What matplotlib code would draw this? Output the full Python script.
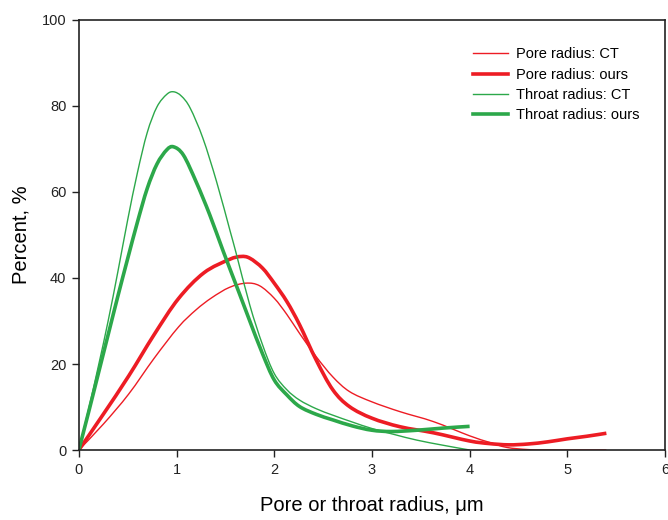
import numpy as np
import matplotlib
matplotlib.use('Agg')
import matplotlib.pyplot as plt
from matplotlib.path import Path
from matplotlib.patches import PathPatch
from matplotlib.lines import Line2D

plt.rcParams['font.family'] = ['Liberation Sans', 'DejaVu Sans']

# pore radius, CT
pore_ct_x = [0, 0.25, 0.51, 0.77, 1.02, 1.2, 1.36, 1.54, 1.71, 1.85, 2.0, 2.13, 2.26, 2.43,
             2.6, 2.77, 3.0, 3.29, 3.63, 4.0, 4.2, 4.38, 4.6, 4.8, 5.4]
pore_ct_y = [0, 6.0, 13.0, 21.3, 28.6, 32.6, 35.4, 37.8, 38.8, 38.2, 35.3, 31.5, 27.1, 21.7,
             17.0, 13.6, 11.2, 8.9, 6.6, 3.3, 1.8, 0.6, 0.1, 0, 0]

# pore radius, ours
pore_ours_x = [0, 0.25, 0.51, 0.77, 1.02, 1.28, 1.54, 1.66, 1.75, 1.88, 2.0, 2.13, 2.26, 2.43,
               2.6, 2.77, 3.0, 3.29, 3.63, 4.0, 4.2, 4.4, 4.6, 4.8, 5.0, 5.2, 5.4]
pore_ours_y = [0, 8.3, 17.2, 26.8, 35.2, 41.2, 44.3, 45.0, 44.6, 42.3, 38.8, 34.5, 29.1, 20.9,
               14.0, 10.1, 7.4, 5.4, 4.0, 2.1, 1.5, 1.2, 1.4, 1.9, 2.6, 3.2, 3.9]

# throat radius, CT
throat_ct_x = [0, 0.1, 0.2, 0.3, 0.4, 0.5, 0.6, 0.7, 0.8, 0.9, 0.97, 1.05, 1.14, 1.27, 1.41,
               1.55, 1.61, 1.75, 1.88, 2.0, 2.13, 2.26, 2.43, 2.6, 2.8, 3.0, 3.23, 3.46, 3.73, 4.0]
throat_ct_y = [0, 9.5, 19.5, 30, 41.5, 53.5, 64.5, 73.8, 79.8, 82.7, 83.3, 82.3, 79.5, 72.5, 62.4,
               50.8, 45.8, 33.7, 24.5, 17.8, 14.0, 11.6, 9.6, 8.1, 6.5, 5.0, 3.6, 2.3, 1.1, 0]

# throat radius, ours
throat_ours_x = [0, 0.1, 0.2, 0.3, 0.4, 0.5, 0.6, 0.7, 0.8, 0.9, 0.97, 1.07, 1.2, 1.34, 1.48,
                 1.64, 1.75, 1.88, 2.0, 2.13, 2.26, 2.43, 2.6, 2.8, 3.0, 3.2, 3.46, 3.73, 4.0]
throat_ours_y = [0, 8.8, 17.8, 26.8, 35.8, 44.5, 53, 60.8, 66.5, 69.8, 70.5, 68.6, 62.4, 54.7, 46.1,
                 36.6, 30.0, 22.4, 16.3, 12.8, 10.1, 8.3, 7.0, 5.6, 4.6, 4.3, 4.6, 5.1, 5.5]

red = '#ed1c24'
green = '#2ca84a'


def smooth_curve(ax, xs, ys, **kw):
    # Catmull-Rom style cubic Bezier through the points
    p = np.column_stack([xs, ys]).astype(float)
    n = len(p)
    verts = [p[0]]
    codes = [Path.MOVETO]
    for i in range(n - 1):
        p0 = p[i - 1] if i > 0 else p[i]
        p3 = p[i + 2] if i + 2 < n else p[i + 1]
        c1 = p[i] + (p[i + 1] - p0) / 6.0
        c2 = p[i + 1] - (p3 - p[i]) / 6.0
        verts += [c1, c2, p[i + 1]]
        codes += [Path.CURVE4] * 3
    ax.add_patch(PathPatch(Path(verts, codes), fill=False, capstyle='butt',
                           joinstyle='round', **kw))


fig = plt.figure(figsize=(6.68, 5.2), dpi=100)
ax = fig.add_axes([0.118, 0.1346, 0.8775, 0.827])

series = [
    (pore_ct_x, pore_ct_y, red, 1.0, 'Pore radius: CT'),
    (pore_ours_x, pore_ours_y, red, 2.6, 'Pore radius: ours'),
    (throat_ct_x, throat_ct_y, green, 1.0, 'Throat radius: CT'),
    (throat_ours_x, throat_ours_y, green, 2.6, 'Throat radius: ours'),
]
handles = []
for xs, ys, c, lw, lab in series:
    smooth_curve(ax, xs, ys, edgecolor=c, lw=lw)
    handles.append(Line2D([], [], color=c, lw=lw, label=lab))

ax.set_xlim(0, 6)
ax.set_ylim(0, 100)
ax.set_xticks(range(0, 7))
ax.set_yticks(range(0, 101, 20))
ax.tick_params(direction='out', length=5, width=1, labelsize=10.5, pad=4, colors='#222222')
for s in ax.spines.values():
    s.set_linewidth(1.2)
    s.set_color('#222222')

ax.set_xlabel('Pore or throat radius, μm', fontsize=14.5, labelpad=14)
ax.set_ylabel('Percent, %', fontsize=14.5, labelpad=8)

ax.legend(handles=handles, loc='upper left', frameon=False, fontsize=10.5, handlelength=2.4,
          handletextpad=0.6, labelspacing=0.42, borderpad=0, borderaxespad=0,
          bbox_to_anchor=(0.672, 0.936))

plt.savefig('out.png', dpi=100)
